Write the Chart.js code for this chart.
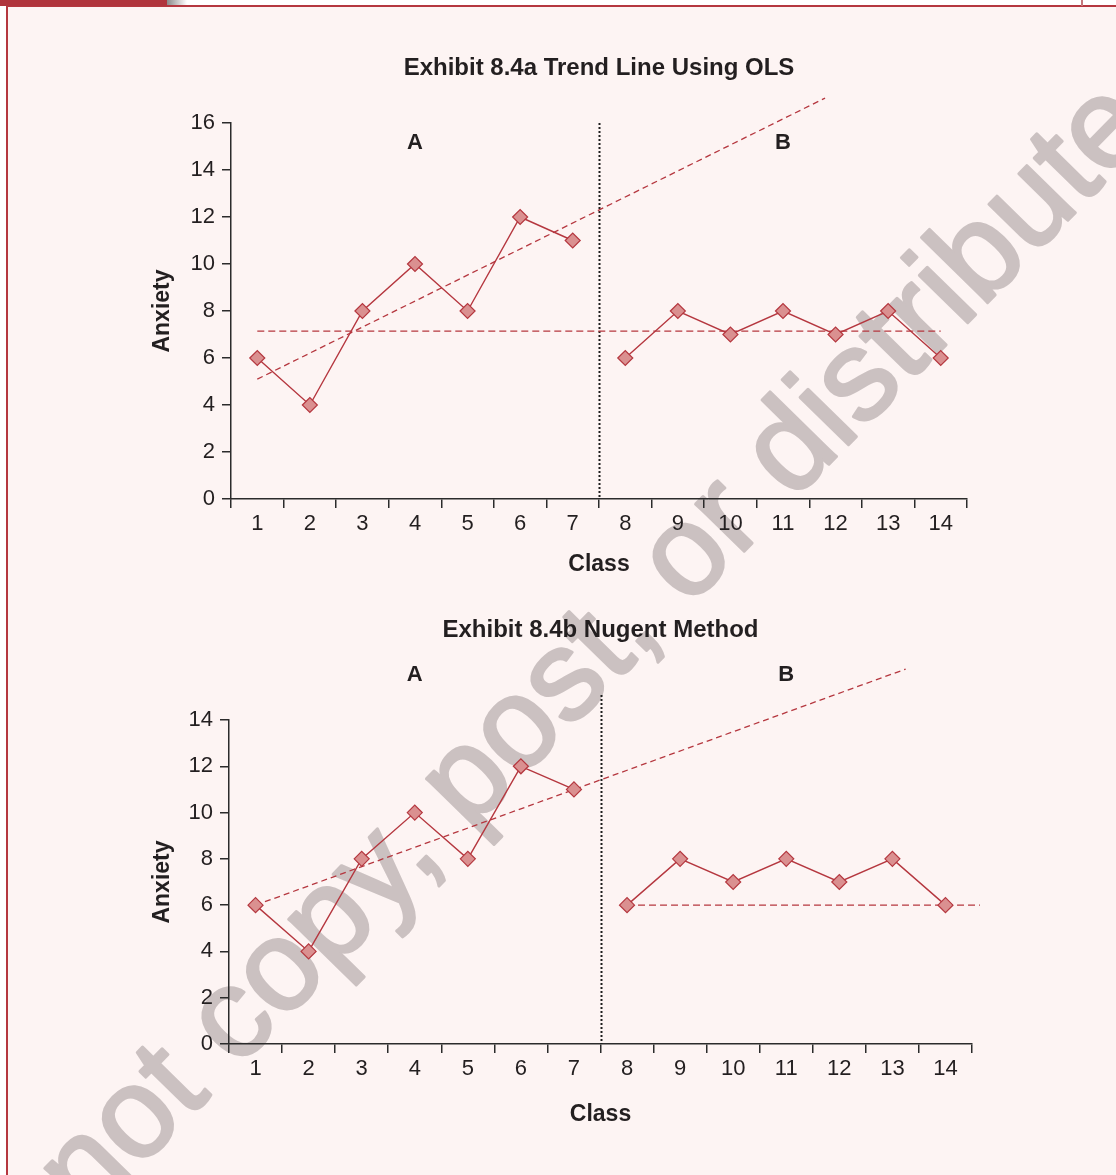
<!DOCTYPE html>
<html>
<head>
<meta charset="utf-8">
<title>Exhibit 8.4 – Trend lines</title>
<script src="https://cdn.jsdelivr.net/npm/chart.js@4.4.1/dist/chart.umd.min.js"></script>
<style>
  html, body { margin: 0; padding: 0; background: #ffffff; }
  #page { position: relative; width: 1116px; height: 1175px; overflow: hidden; background: #ffffff; }
  #panel { position: absolute; left: 6px; top: 5px; right: 0; bottom: 0; background: #fdf4f3;
           border-left: 2px solid #b5373f; border-top: 2px solid #b5373f; }
  #tab { position: absolute; left: 0; top: 0; width: 167px; height: 6px; background: #b0343c; }
  #tabfade { position: absolute; left: 167px; top: 0; width: 20px; height: 5px;
             background: linear-gradient(to right, #8a8a8a, #ffffff); }
  #edge { position: absolute; left: 1081px; top: 0; width: 2px; height: 6px; background: #c4787c; }
  canvas { position: absolute; left: 0; }
  #wm { top: 0; }
  #ols { top: 0; }
  #nugent { top: 600px; }
</style>
</head>
<body>
<div id="page">
  <div id="panel"></div>
  <div id="tab"></div>
  <div id="tabfade"></div>
  <div id="edge"></div>
  <canvas id="wm" width="1116" height="1175"></canvas>
  <canvas id="ols" width="1116" height="600"></canvas>
  <canvas id="nugent" width="1116" height="575"></canvas>
</div>
<script>
// ---- data -------------------------------------------------------------
const classes = ['1', '2', '3', '4', '5', '6', '7', '8', '9', '10', '11', '12', '13', '14'];
const classesA = [1, 2, 3, 4, 5, 6, 7];
const classesB = [8, 9, 10, 11, 12, 13, 14];
const anxietyA = [6, 4, 8, 10, 8, 12, 11];
const anxietyB = [6, 8, 7, 8, 7, 8, 6];

const phaseNames = ['A', 'B'];
const phaseFirst = [1, 8];
const phaseLast = [7, 14];

// OLS baseline trend (extended into phase B) and phase B mean
const olsTrendX = [1, 11.8];
const olsTrendY = [5.1, 17.06];
const olsLevelX = [1, 14];
const olsLevelY = [7.14, 7.14];

// Nugent line through first and last baseline points, and phase B level
const nugentTrendX = [1, 13.25];
const nugentTrendY = [6, 16.2];
const nugentLevelX = [8, 14.65];
const nugentLevelY = [6, 6];

const yMaxOLS = 16;
const yMaxNugent = 14;

// ---- styling ----------------------------------------------------------
const FF = '"Liberation Sans", Arial, Helvetica, sans-serif';
const INK = '#231f20';
const AXIS = '#2b2b2b';
const LINE = '#b5373f';
const MARK_FILL = '#da9090';

const zip = (xs, ys) => xs.map((x, i) => ({ x, y: ys[i] }));

// watermark behind both charts
(function drawWatermark() {
  const c = document.getElementById('wm').getContext('2d');
  c.save();
  c.translate(-52, 1364);
  c.rotate(-45.6 * Math.PI / 180);
  c.font = '128px ' + FF;
  c.fillStyle = '#cbc1c1';
  c.strokeStyle = '#cbc1c1';
  c.lineWidth = 3;
  c.lineJoin = 'round';
  c.textBaseline = 'alphabetic';
  c.strokeText('Do not copy, post, or distribute', 0, 0);
  c.fillText('Do not copy, post, or distribute', 0, 0);
  c.restore();
})();

// phase boundary and phase letters
const phasePlugin = {
  id: 'phases',
  beforeDatasetsDraw(chart, args, opts) {
    const { ctx, chartArea, scales: { x } } = chart;
    const bx = Math.round(x.getPixelForValue(phaseLast[0] + 0.5)) + 0.5;
    ctx.save();
    ctx.strokeStyle = '#1e1e1e';
    ctx.lineWidth = 2;
    ctx.setLineDash([2, 2]);
    ctx.beginPath();
    ctx.moveTo(bx, chartArea.top - opts.lineLift);
    ctx.lineTo(bx, chartArea.bottom);
    ctx.stroke();
    ctx.restore();
  },
  afterDatasetsDraw(chart, args, opts) {
    const { ctx, chartArea, scales: { x } } = chart;
    ctx.save();
    ctx.font = 'bold 22px ' + FF;
    ctx.fillStyle = INK;
    ctx.textAlign = 'center';
    ctx.textBaseline = 'middle';
    phaseNames.forEach((name, i) => {
      const cx = x.getPixelForValue((phaseFirst[i] + phaseLast[i]) / 2);
      ctx.fillText(name, cx, chartArea.top + opts.labelOffset);
    });
    ctx.restore();
  }
};

function dataSet(xs, ys) {
  return {
    data: zip(xs, ys),
    borderColor: LINE,
    borderWidth: 1.4,
    pointStyle: 'rectRot',
    pointRadius: 7.5,
    pointBackgroundColor: MARK_FILL,
    pointBorderColor: LINE,
    pointBorderWidth: 1.2,
    tension: 0,
    clip: false
  };
}

function guide(xs, ys, dash) {
  return {
    data: zip(xs, ys),
    borderColor: LINE,
    borderWidth: 1.3,
    borderDash: dash,
    pointRadius: 0,
    tension: 0,
    clip: false
  };
}

function xAxis(titlePadBottom) {
  return {
    type: 'linear',
    min: 0.5,
    max: 14.5,
    afterBuildTicks: s => {
      const t = [];
      for (let v = 0.5; v <= 14.5; v += 0.5) t.push({ value: v });
      s.ticks = t;
    },
    afterFit: s => { s.height = 90; },
    ticks: {
      autoSkip: false,
      maxRotation: 0,
      padding: 3,
      color: INK,
      font: { size: 22, family: FF },
      callback: v => Number.isInteger(v) ? classes[v - 1] : ''
    },
    grid: {
      drawOnChartArea: false,
      drawTicks: true,
      tickLength: 9,
      lineWidth: 1.5,
      color: AXIS,
      tickColor: c => Number.isInteger(c.tick.value) ? 'rgba(0,0,0,0)' : AXIS
    },
    border: { display: true, color: AXIS, width: 1.5 },
    title: {
      display: true, text: 'Class', color: INK,
      font: { size: 23, weight: 'bold', family: FF },
      padding: { top: 0, bottom: titlePadBottom }
    }
  };
}

function yAxis(max, width) {
  return {
    type: 'linear',
    min: 0,
    max: max,
    afterFit: s => { s.width = width; },
    ticks: { stepSize: 2, padding: 7, color: INK, font: { size: 22, family: FF } },
    grid: { drawOnChartArea: false, drawTicks: true, tickLength: 9, lineWidth: 1.5, color: AXIS },
    border: { display: true, color: AXIS, width: 1.5 },
    title: {
      display: true, text: 'Anxiety', color: INK,
      font: { size: 23, weight: 'bold', family: FF },
      padding: { top: 149.2, bottom: 0 }
    }
  };
}

function makeChart(id, cfg) {
  return new Chart(document.getElementById(id), {
    type: 'line',
    data: { datasets: cfg.datasets },
    options: {
      responsive: false,
      animation: false,
      devicePixelRatio: 1,
      events: [],
      layout: { padding: cfg.padding },
      scales: { x: xAxis(cfg.xTitlePad), y: yAxis(cfg.yMax, cfg.yWidth) },
      plugins: {
        legend: { display: false },
        tooltip: { enabled: false },
        title: {
          display: true, text: cfg.title, fullSize: false, color: INK,
          font: { size: 24, weight: 'bold', family: FF },
          padding: cfg.titlePad
        },
        phases: cfg.phases
      }
    },
    plugins: [phasePlugin]
  });
}

makeChart('ols', {
  title: 'Exhibit 8.4a Trend Line Using OLS',
  datasets: [
    dataSet(classesA, anxietyA),
    dataSet(classesB, anxietyB),
    guide(olsTrendX, olsTrendY, [6, 4]),
    guide(olsLevelX, olsLevelY, [7, 4])
  ],
  padding: { top: 40, right: 149, bottom: 11, left: 0 },
  titlePad: { top: 13.5, bottom: 40.7 },
  xTitlePad: 10.2,
  yMax: yMaxOLS,
  yWidth: 231,
  phases: { lineLift: 0, labelOffset: 20 }
});

makeChart('nugent', {
  title: 'Exhibit 8.4b Nugent Method',
  datasets: [
    dataSet(classesA, anxietyA),
    dataSet(classesB, anxietyB),
    guide(nugentTrendX, nugentTrendY, [6, 4]),
    guide(nugentLevelX, nugentLevelY, [7, 4])
  ],
  padding: { top: 4, right: 144, bottom: 41, left: 0 },
  titlePad: { top: 11.5, bottom: 75.7 },
  xTitlePad: 5.2,
  yMax: yMaxNugent,
  yWidth: 229,
  phases: { lineLift: 25, labelOffset: -45 }
});
</script>
</body>
</html>
